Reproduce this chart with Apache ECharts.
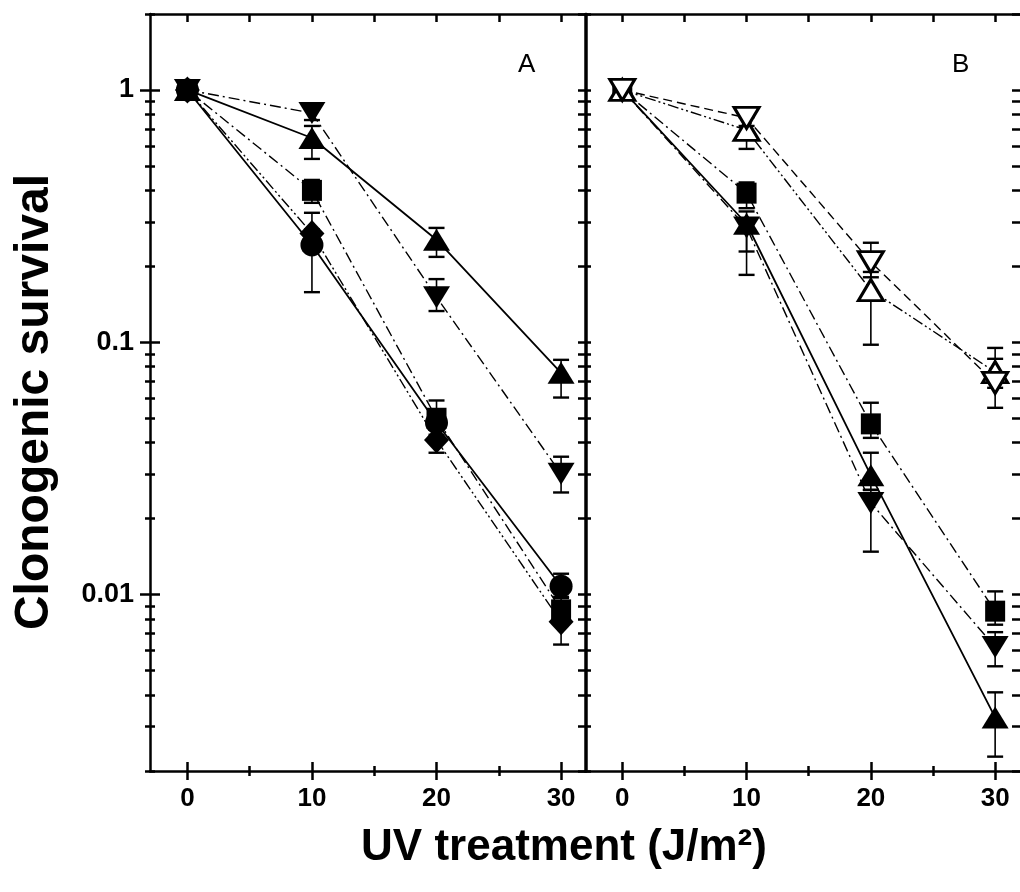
<!DOCTYPE html>
<html>
<head>
<meta charset="utf-8">
<script src="https://cdn.jsdelivr.net/npm/echarts@6/dist/echarts.min.js"></script>
<style>
  html, body { margin: 0; padding: 0; background: #fff; }
  #chart { width: 1020px; height: 892px; }
</style>
</head>
<body>
<div id="chart"></div>
<script>
// UV doses (J/m2)
const doses = [0, 10, 20, 30];

// Tick positions
const xMajorTicks = [0, 10, 20, 30];
const xMinorTicks = [5, 15, 25];
const xAllTicks = [0, 5, 10, 15, 20, 25, 30];
const yMajorTicks = [0.01, 0.1, 1];
const yMinorTicks = [0.002, 0.003, 0.004, 0.005, 0.006, 0.007, 0.008, 0.009,
                     0.02, 0.03, 0.04, 0.05, 0.06, 0.07, 0.08, 0.09,
                     0.2, 0.3, 0.4, 0.5, 0.6, 0.7, 0.8, 0.9, 2];
const yLabelText = { 0.01: '0.01', 0.1: '0.1', 1: '1' };

// Panel A: survival means and error-bar limits
const aTriDown     = [1.0, 0.81, 0.151, 0.0301];
const aTriDownLow  = [null, 0.76, 0.133, 0.0254];
const aTriDownHigh = [null, 0.86, 0.178, 0.0352];
const aTriUp       = [1.0, 0.645, 0.255, 0.0757];
const aTriUpLow    = [null, 0.533, 0.218, 0.0604];
const aTriUpHigh   = [null, 0.72, 0.284, 0.0852];
const aSquare      = [1.0, 0.40, 0.050, 0.0087];
const aSquareLow   = [null, 0.357, 0.045, 0.0078];
const aSquareHigh  = [null, 0.44, 0.0588, 0.0097];
const aDiamond     = [1.0, 0.27, 0.041, 0.0078];
const aDiamondLow  = [null, 0.24, 0.0365, 0.00634];
const aDiamondHigh = [null, 0.326, 0.046, 0.0088];
const aCircle      = [1.0, 0.243, 0.048, 0.0108];
const aCircleLow   = [null, 0.158, 0.043, 0.0098];
const aCircleHigh  = [null, 0.28, 0.053, 0.0121];

// Panel B: survival means and error-bar limits
const bOpenDown     = [1.0, 0.775, 0.208, 0.069];
const bOpenDownLow  = [null, 0.72, 0.181, 0.055];
const bOpenDownHigh = [null, 0.83, 0.248, 0.095];
const bOpenUp       = [1.0, 0.694, 0.161, 0.0762];
const bOpenUpLow    = [null, 0.584, 0.0978, 0.066];
const bOpenUpHigh   = [null, 0.78, 0.19, 0.086];
const bSquare       = [1.0, 0.39, 0.0475, 0.0086];
const bSquareLow    = [null, 0.34, 0.0418, 0.0076];
const bSquareHigh   = [null, 0.43, 0.0576, 0.0103];
const bTriUp        = [1.0, 0.295, 0.0297, 0.00326];
const bTriUpLow     = [null, 0.229, 0.026, 0.00228];
const bTriUpHigh    = [null, 0.33, 0.0365, 0.0041];
const bTriDown      = [1.0, 0.285, 0.0231, 0.0062];
const bTriDownLow   = [null, 0.185, 0.0148, 0.0052];
const bTriDownHigh  = [null, 0.31, 0.026, 0.0071];

const FONT = '"Liberation Sans", Arial, sans-serif';
const BLACK = '#000';

function pairs(values) {
  return doses.map((d, i) => [d, values[i]]);
}
function errRows(lo, hi) {
  const rows = [];
  doses.forEach((d, i) => { if (lo[i] != null) rows.push([d, lo[i], hi[i]]); });
  return rows;
}

function renderErrorBar(params, api) {
  const x = api.value(0);
  const pLo = api.coord([x, api.value(1)]);
  const pHi = api.coord([x, api.value(2)]);
  const hw = 8;
  const stem = { stroke: BLACK, lineWidth: 1.6 };
  const cap = { stroke: BLACK, lineWidth: 2.4 };
  return {
    type: 'group',
    children: [
      { type: 'line', shape: { x1: pLo[0], y1: pLo[1], x2: pHi[0], y2: pHi[1] }, style: stem },
      { type: 'line', shape: { x1: pLo[0] - hw, y1: pLo[1], x2: pLo[0] + hw, y2: pLo[1] }, style: cap },
      { type: 'line', shape: { x1: pHi[0] - hw, y1: pHi[1], x2: pHi[0] + hw, y2: pHi[1] }, style: cap }
    ]
  };
}

function errSeries(lo, hi, xi, yi) {
  return {
    type: 'custom', xAxisIndex: xi, yAxisIndex: yi, z: 3,
    renderItem: renderErrorBar,
    encode: { x: 0, y: [1, 2] },
    data: errRows(lo, hi), silent: true, clip: false
  };
}

function curve(values, xi, yi, marker, line) {
  return {
    type: 'line', xAxisIndex: xi, yAxisIndex: yi, z: 4,
    data: pairs(values),
    symbol: marker.symbol, symbolSize: marker.size, symbolRotate: marker.rotate || 0,
    showAllSymbol: true,
    itemStyle: marker.open
      ? { color: '#fff', borderColor: BLACK, borderWidth: 3 }
      : { color: BLACK, borderWidth: 0 },
    lineStyle: { color: BLACK, width: line.width, type: line.type },
    silent: true
  };
}

const TRI = { symbol: 'triangle', size: [27, 22] };
const TRI_DN = { symbol: 'triangle', size: [27, 22], rotate: 180 };
const SQR = { symbol: 'rect', size: [20, 21] };
const DIA = { symbol: 'diamond', size: [25, 27] };
const CIR = { symbol: 'circle', size: [23, 23] };
const OTRI = { symbol: 'triangle', size: [25, 21], open: true };
const OTRI_DN = { symbol: 'triangle', size: [25, 21], rotate: 180, open: true };

const SOLID = { type: 'solid', width: 1.8 };
const DASHDOT = { type: [11, 4, 2, 4], width: 1.4 };
const DASHDOTDOT = { type: [11, 3, 2, 3, 2, 3], width: 1.4 };
const DASHED = { type: [9, 5], width: 1.4 };

const AXIS_LINE = { show: true, onZero: false, lineStyle: { color: BLACK, width: 2.5 } };
const NO_LINE = { show: false, onZero: false };
const TICK_STYLE = { color: BLACK, width: 2.5 };

// Axis builders
function xAxes(gridIndex) {
  const base = { gridIndex, type: 'value', min: -3, max: 32, splitLine: { show: false } };
  return [
    Object.assign({}, base, {
      position: 'bottom',
      axisLine: AXIS_LINE,
      axisTick: { show: false },
      axisLabel: { customValues: xMajorTicks, margin: 15, color: BLACK,
                   fontFamily: FONT, fontSize: 26, fontWeight: 'bold' }
    }),
    Object.assign({}, base, {
      position: 'bottom', offset: -9,
      axisLine: NO_LINE, axisLabel: { show: false },
      axisTick: { show: true, customValues: xMajorTicks, length: 18, lineStyle: TICK_STYLE }
    }),
    Object.assign({}, base, {
      position: 'bottom', offset: -5,
      axisLine: NO_LINE, axisLabel: { show: false },
      axisTick: { show: true, customValues: xMinorTicks, length: 10, lineStyle: TICK_STYLE }
    }),
    Object.assign({}, base, {
      position: 'top',
      axisLine: AXIS_LINE,
      axisLabel: { show: false },
      axisTick: { show: true, inside: true, customValues: xAllTicks, length: 8, lineStyle: TICK_STYLE }
    })
  ];
}

const yBase = { type: 'log', logBase: 10, min: 0.002, max: 2, splitLine: { show: false } };
const yAllTicks = yMajorTicks.concat(yMinorTicks);

const yAxisList = [
  // panel A, left
  Object.assign({}, yBase, {
    gridIndex: 0, position: 'left',
    axisLine: AXIS_LINE,
    axisTick: { show: false },
    axisLabel: { customValues: yMajorTicks, margin: 16, color: BLACK, fontFamily: FONT,
                 fontSize: 27, fontWeight: 'bold', formatter: v => yLabelText[v] || String(v) }
  }),
  Object.assign({}, yBase, {
    gridIndex: 0, position: 'left', offset: -10,
    axisLine: NO_LINE, axisLabel: { show: false },
    axisTick: { show: true, customValues: yMajorTicks, length: 20, lineStyle: TICK_STYLE }
  }),
  Object.assign({}, yBase, {
    gridIndex: 0, position: 'left', offset: -5,
    axisLine: NO_LINE, axisLabel: { show: false },
    axisTick: { show: true, customValues: yMinorTicks, length: 10, lineStyle: TICK_STYLE }
  }),
  // panel A, right
  Object.assign({}, yBase, {
    gridIndex: 0, position: 'right',
    axisLine: AXIS_LINE,
    axisLabel: { show: false },
    axisTick: { show: true, inside: true, customValues: yAllTicks, length: 8, lineStyle: TICK_STYLE }
  }),
  // panel B, left
  Object.assign({}, yBase, {
    gridIndex: 1, position: 'left',
    axisLine: AXIS_LINE,
    axisLabel: { show: false },
    axisTick: { show: true, inside: true, customValues: yAllTicks, length: 6, lineStyle: TICK_STYLE }
  }),
  // panel B, right: frame edge falls on the page border, only the ticks show
  Object.assign({}, yBase, {
    gridIndex: 1, position: 'right',
    axisLine: NO_LINE,
    axisLabel: { show: false },
    axisTick: { show: true, inside: true, customValues: yAllTicks, length: 8, lineStyle: TICK_STYLE }
  })
];

const xAxisList = xAxes(0).concat(xAxes(1));
const AX = 0, AY = 0, BX = 4, BY = 4;

const series = [
  // panel A
  curve(aCircle, AX, AY, CIR, SOLID),
  curve(aDiamond, AX, AY, DIA, DASHDOTDOT),
  curve(aSquare, AX, AY, SQR, DASHDOT),
  curve(aTriUp, AX, AY, TRI, SOLID),
  curve(aTriDown, AX, AY, TRI_DN, DASHDOT),
  errSeries(aCircleLow, aCircleHigh, AX, AY),
  errSeries(aDiamondLow, aDiamondHigh, AX, AY),
  errSeries(aSquareLow, aSquareHigh, AX, AY),
  errSeries(aTriUpLow, aTriUpHigh, AX, AY),
  errSeries(aTriDownLow, aTriDownHigh, AX, AY),
  // panel B
  curve(bTriUp, BX, BY, TRI, SOLID),
  curve(bTriDown, BX, BY, TRI_DN, DASHDOT),
  curve(bSquare, BX, BY, SQR, DASHDOT),
  curve(bOpenUp, BX, BY, OTRI, DASHDOTDOT),
  curve(bOpenDown, BX, BY, OTRI_DN, DASHED),
  errSeries(bTriUpLow, bTriUpHigh, BX, BY),
  errSeries(bTriDownLow, bTriDownHigh, BX, BY),
  errSeries(bSquareLow, bSquareHigh, BX, BY),
  errSeries(bOpenUpLow, bOpenUpHigh, BX, BY),
  errSeries(bOpenDownLow, bOpenDownHigh, BX, BY)
];

const chart = echarts.init(document.getElementById('chart'), null, { renderer: 'canvas' });
chart.setOption({
  animation: false,
  backgroundColor: '#fff',
  grid: [
    { left: 150, top: 14, width: 436, height: 757 },
    { left: 585, top: 14, width: 437, height: 757 }
  ],
  xAxis: xAxisList,
  yAxis: yAxisList,
  series: series,
  graphic: [
    { type: 'text', left: 518, top: 52, style: { text: 'A', font: '26px ' + FONT, fill: BLACK } },
    { type: 'text', left: 952, top: 52, style: { text: 'B', font: '26px ' + FONT, fill: BLACK } },
    { type: 'text', x: 35, y: 402, rotation: Math.PI / 2,
      style: { text: 'Clonogenic survival', font: 'bold 48px ' + FONT, fill: BLACK,
               align: 'center', verticalAlign: 'middle' } },
    { type: 'text', x: 564, y: 848,
      style: { text: 'UV treatment (J/m²)', font: 'bold 44px ' + FONT, fill: BLACK,
               align: 'center', verticalAlign: 'middle' } }
  ]
});
</script>
</body>
</html>
